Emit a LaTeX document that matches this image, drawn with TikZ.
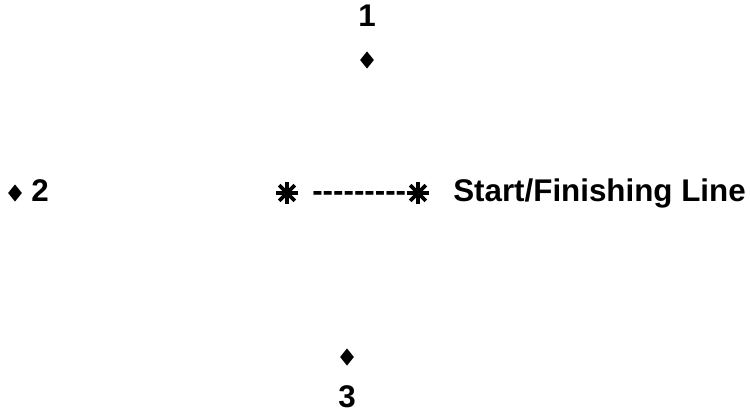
\documentclass[tikz,border=0pt]{standalone}
\usepackage{fontspec}
\setmainfont{Liberation Sans}
\usetikzlibrary{shapes.geometric}

\tikzset{
  marker/.style={diamond, fill=black, inner sep=0pt, minimum width=10.5pt, minimum height=13pt},
  label/.style={font=\fontsize{23.5}{26}\selectfont\bfseries, inner sep=0pt},
  spoke/.style={line width=2.7pt}
}

\begin{document}
\begin{tikzpicture}[x=0.75pt, y=-0.75pt]
\useasboundingbox (0,0) rectangle (750,417);
% top buoy
\node[label, anchor=base] (n1) at (367,27) {1};
\node[marker] (d1) at (367,60) {};
% left buoy
\node[marker] (d2) at (15,193) {};
\node[label, anchor=base west] (n2) at (31,202) {2};
% start line
\coordinate (s1) at (287,193);
\coordinate (s2) at (418,193);
\foreach \s in {s1,s2}
  \foreach \a in {0,45,...,315}
    \draw[spoke] (\s) -- ++(\a:11);
\node[label, anchor=base west] (dash) at (312,202) {\foreach \i in {1,...,9}{\mbox{-}}};
\node[label, anchor=base west] (sf) at (453,202) {Start/Finishing Line};
% bottom buoy
\node[marker] (d3) at (347,357) {};
\node[label, anchor=base] (n3) at (347,407) {3};
\end{tikzpicture}
\end{document}
